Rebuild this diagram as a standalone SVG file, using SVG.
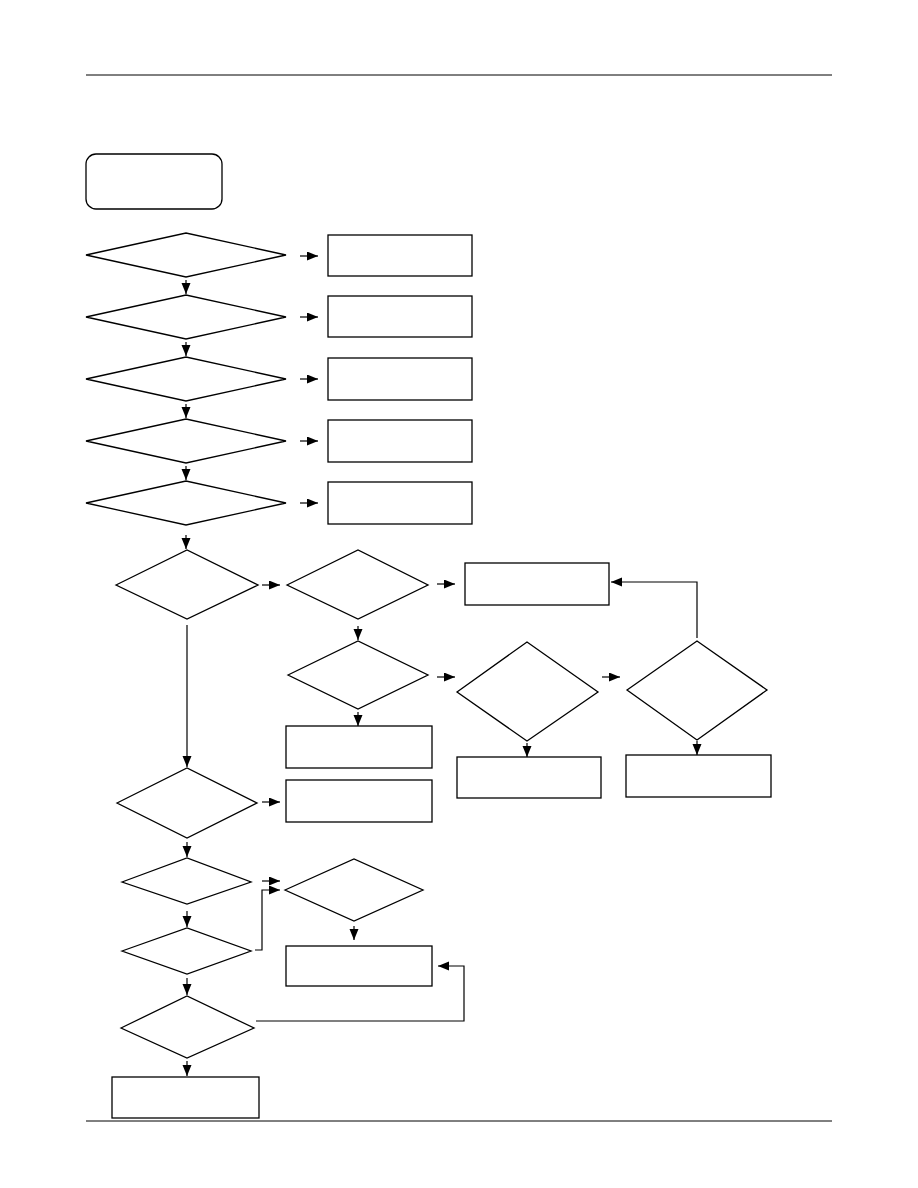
<svg xmlns="http://www.w3.org/2000/svg" width="918" height="1188" viewBox="0 0 918 1188">
<defs>
<marker id="ah" markerUnits="userSpaceOnUse" markerWidth="12" markerHeight="10" refX="11" refY="4.5" orient="auto">
<path d="M0,0 L11,4.5 L0,9 z" fill="#000"/>
</marker>
<style>
.n{fill:#fff;stroke:#000;stroke-width:1.3}
.c{fill:none;stroke:#000;stroke-width:1.2;marker-end:url(#ah)}
</style>
</defs>
<rect width="918" height="1188" fill="#fff"/>
<line x1="86" y1="75" x2="832" y2="75" stroke="#000" stroke-width="1"/>
<line x1="86" y1="1121" x2="832" y2="1121" stroke="#000" stroke-width="1"/>

<g id="start"><rect class="n" x="86" y="154" width="136" height="55" rx="10"/></g>

<g id="d1"><polygon class="n" points="86,255 186,233 286,255 186,277"/></g>
<g id="r1"><rect class="n" x="328" y="235" width="144" height="41"/></g>
<g id="d2"><polygon class="n" points="86,317 186,295 286,317 186,339"/></g>
<g id="r2"><rect class="n" x="328" y="296" width="144" height="41"/></g>
<g id="d3"><polygon class="n" points="86,379 186,357 286,379 186,401"/></g>
<g id="r3"><rect class="n" x="328" y="358" width="144" height="42"/></g>
<g id="d4"><polygon class="n" points="86,441 186,419 286,441 186,463"/></g>
<g id="r4"><rect class="n" x="328" y="420" width="144" height="42"/></g>
<g id="d5"><polygon class="n" points="86,503 186,481 286,503 186,525"/></g>
<g id="r5"><rect class="n" x="328" y="482" width="144" height="42"/></g>

<g id="d6"><polygon class="n" points="116,585 187,550 258,585 187,619"/></g>
<g id="d7"><polygon class="n" points="287,585 358,550 428,585 358,619"/></g>
<g id="r6"><rect class="n" x="465" y="563" width="144" height="42"/></g>
<g id="d8"><polygon class="n" points="288,675 358,641 428,675 358,709"/></g>
<g id="r7"><rect class="n" x="286" y="726" width="146" height="42"/></g>
<g id="r8"><rect class="n" x="286" y="780" width="146" height="42"/></g>
<g id="d9"><polygon class="n" points="457,692 527,642 598,692 527,741"/></g>
<g id="r9"><rect class="n" x="457" y="757" width="144" height="41"/></g>
<g id="d10"><polygon class="n" points="627,690 697,641 767,690 697,740"/></g>
<g id="r10"><rect class="n" x="626" y="755" width="145" height="42"/></g>

<g id="d11"><polygon class="n" points="117,803 187,768 257,803 187,838"/></g>
<g id="d12"><polygon class="n" points="122,882 187,858 251,882 187,904"/></g>
<g id="d13"><polygon class="n" points="285,890 354,859 423,890 354,921"/></g>
<g id="r11"><rect class="n" x="286" y="946" width="146" height="40"/></g>
<g id="d14"><polygon class="n" points="122,951 187,928 251,951 187,974"/></g>
<g id="d15"><polygon class="n" points="121,1028 187,996 254,1028 187,1058"/></g>
<g id="r12"><rect class="n" x="112" y="1077" width="147" height="41"/></g>

<g id="connectors">
<line class="c" x1="300" y1="256" x2="318" y2="256"/>
<line class="c" x1="300" y1="317" x2="318" y2="317"/>
<line class="c" x1="300" y1="379" x2="318" y2="379"/>
<line class="c" x1="300" y1="441" x2="318" y2="441"/>
<line class="c" x1="300" y1="503" x2="318" y2="503"/>
<line class="c" x1="186" y1="280" x2="186" y2="294"/>
<line class="c" x1="186" y1="342" x2="186" y2="356"/>
<line class="c" x1="186" y1="404" x2="186" y2="418"/>
<line class="c" x1="186" y1="466" x2="186" y2="480"/>
<line class="c" x1="186" y1="535" x2="186" y2="549"/>
<line class="c" x1="262" y1="585" x2="280" y2="585"/>
<line class="c" x1="437" y1="584" x2="455" y2="584"/>
<line class="c" x1="358" y1="626" x2="358" y2="640"/>
<line class="c" x1="437" y1="677" x2="455" y2="677"/>
<line class="c" x1="358" y1="712" x2="358" y2="726"/>
<line class="c" x1="602" y1="677" x2="620" y2="677"/>
<line class="c" x1="527" y1="743" x2="527" y2="757"/>
<line class="c" x1="697" y1="741" x2="697" y2="755"/>
<polyline class="c" points="697,638 697,582 611,582"/>
<line class="c" x1="187" y1="625" x2="187" y2="767"/>
<line class="c" x1="262" y1="802" x2="280" y2="802"/>
<line class="c" x1="187" y1="842" x2="187" y2="857"/>
<line class="c" x1="262" y1="881" x2="280" y2="881"/>
<line class="c" x1="354" y1="926" x2="354" y2="940"/>
<line class="c" x1="187" y1="911" x2="187" y2="927"/>
<polyline class="c" points="255,950 262,950 262,890 280,890"/>
<line class="c" x1="187" y1="978" x2="187" y2="995"/>
<polyline class="c" points="256,1021 464,1021 464,966 438,966"/>
<line class="c" x1="187" y1="1061" x2="187" y2="1076"/>
</g>
</svg>
